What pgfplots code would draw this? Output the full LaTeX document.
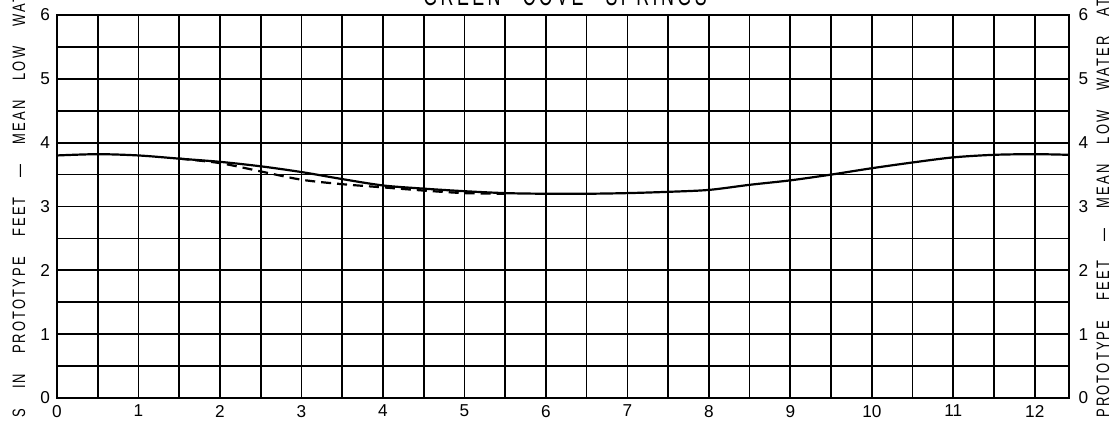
\documentclass[border=0pt]{standalone}
\usepackage{fontspec}
\setmainfont{Liberation Sans}
\newfontfamily\lab{Liberation Sans}[FakeStretch=0.72, LetterSpace=12]
\newfontfamily\ttl{Liberation Sans}[FakeStretch=0.62, LetterSpace=12]
\newfontfamily\dig{Liberation Sans}
\usepackage{pgfplots}
\pgfplotsset{compat=1.18}
\newcommand{\wg}{\hspace{10pt}}
\newcommand{\tg}{\hspace{11pt}}
\begin{document}
\begin{tikzpicture}
\begin{axis}[at={(0,0)}, anchor=south west, scale only axis,
  width=506pt, height=191.5pt,
  xmin=0, xmax=12.42, ymin=0, ymax=6,
  xtick={0,...,12}, ytick={0,...,6},
  minor xtick={0.5,1.5,...,11.5}, minor ytick={0.5,1.5,...,5.5},
  grid=both,
  major grid style={black, line width=0.85pt},
  minor grid style={black, line width=0.85pt},
  major tick length=0pt, minor tick length=0pt,
  axis line style={line width=1pt},
  tick label style={font=\dig\fontsize{8.6}{10}\selectfont},
  /pgf/number format/assume math mode=true,
]
\addplot[black, line width=1.1pt, smooth] coordinates {
 (0,3.80) (0.5,3.82) (1,3.80) (1.5,3.75) (2,3.70) (2.5,3.63) (3,3.54)
 (3.5,3.43) (4,3.33) (4.5,3.28) (5,3.24) (5.5,3.21) (6,3.20) (6.5,3.20)
 (7,3.21) (7.5,3.23) (8,3.26) (8.5,3.34) (9,3.41) (9.5,3.50) (10,3.60)
 (10.5,3.69) (11,3.77) (11.5,3.81) (12,3.82) (12.42,3.81)};
\addplot[black, line width=1.1pt, smooth, dash pattern=on 5pt off 3pt] coordinates {
 (1.5,3.75) (2,3.68) (2.5,3.55) (3,3.42) (3.5,3.35) (4,3.30) (4.5,3.25)
 (5,3.21) (5.5,3.20)};
\end{axis}
\begin{axis}[at={(0,0)}, anchor=south west, scale only axis,
  width=506pt, height=191.5pt,
  xmin=0, xmax=12.42, ymin=0, ymax=6,
  xtick=\empty, ytick={0,...,6}, yticklabel pos=right,
  axis line style={draw=none}, major tick length=0pt,
  tick label style={font=\dig\fontsize{8.6}{10}\selectfont, xshift=1.3pt},
  /pgf/number format/assume math mode=true,
]
\end{axis}
\node[anchor=base, inner sep=0, font=\ttl\fontsize{14.4}{16}\selectfont] at (254pt,196.5pt) {GREEN\tg COVE\tg SPRINGS};
\node[rotate=90, anchor=base west, inner sep=0, font=\lab\fontsize{9}{10}\selectfont] at (-16pt,-10pt) {S\wg IN\wg PROTOTYPE\wg FEET\wg —\wg MEAN\wg LOW\wg WATER};
\node[rotate=90, anchor=base west, inner sep=0, font=\lab\fontsize{9}{10}\selectfont] at (526pt,-10pt) {PROTOTYPE\wg FEET\wg —\wg MEAN\wg LOW\wg WATER\wg AT};
\pgfresetboundingbox
\useasboundingbox (-28.5pt,-11pt) rectangle (527.5pt,199pt);
\end{tikzpicture}
\end{document}
